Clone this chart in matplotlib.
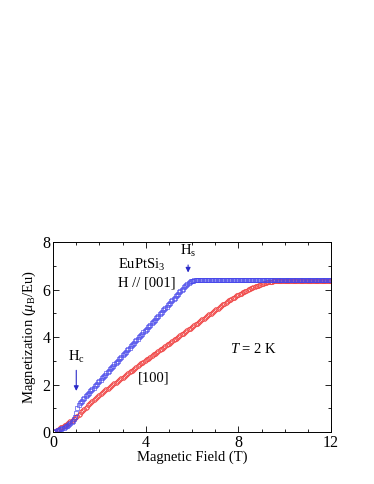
import numpy as np
import matplotlib
matplotlib.use("Agg")
import matplotlib.pyplot as plt
from matplotlib.ticker import MultipleLocator

plt.rcParams['font.family'] = ['Liberation Serif', 'DejaVu Serif']
plt.rcParams['mathtext.fontset'] = 'custom'
plt.rcParams['mathtext.rm'] = 'Liberation Serif'
plt.rcParams['mathtext.it'] = 'Liberation Serif:italic'

# H // [001] (blue squares), field step 0.05 T
m_001 = [
    0.00, 0.02, 0.04, 0.06, 0.08, 0.10, 0.12, 0.145, 0.17, 0.195,
    0.22, 0.25, 0.28, 0.315, 0.35, 0.39, 0.43, 0.48, 0.55, 0.65,
    0.80, 1.00, 1.15, 1.22, 1.28, 1.33, 1.39, 1.45, 1.51, 1.57,
    1.62, 1.67, 1.72, 1.77, 1.82, 1.88, 1.93, 1.99, 2.04, 2.10,
    2.15, 2.20, 2.26, 2.31, 2.37, 2.42, 2.47, 2.53, 2.58, 2.64,
    2.69, 2.74, 2.80, 2.85, 2.91, 2.96, 3.01, 3.07, 3.12, 3.18,
    3.23, 3.28, 3.34, 3.39, 3.45, 3.50, 3.55, 3.61, 3.66, 3.72,
    3.77, 3.82, 3.88, 3.93, 3.99, 4.04, 4.09, 4.15, 4.20, 4.26,
    4.31, 4.36, 4.42, 4.47, 4.53, 4.58, 4.63, 4.69, 4.74, 4.80,
    4.85, 4.90, 4.96, 5.01, 5.07, 5.12, 5.17, 5.23, 5.28, 5.34,
    5.39, 5.44, 5.50, 5.55, 5.61, 5.66, 5.71, 5.77, 5.82, 5.88,
    5.93, 5.98, 6.04, 6.09, 6.14, 6.19, 6.24, 6.28, 6.32, 6.35,
    6.37, 6.38, 6.39, 6.40, 6.40, 6.41, 6.41, 6.42, 6.42, 6.42,
    6.42, 6.42, 6.42, 6.42, 6.42, 6.42, 6.42, 6.42, 6.42, 6.42,
    6.42, 6.42, 6.42, 6.42, 6.42, 6.42, 6.42, 6.42, 6.42, 6.42,
    6.42, 6.42, 6.42, 6.42, 6.42, 6.42, 6.42, 6.42, 6.42, 6.42,
    6.42, 6.42, 6.42, 6.42, 6.42, 6.42, 6.42, 6.42, 6.42, 6.42,
    6.42, 6.42, 6.42, 6.42, 6.42, 6.42, 6.42, 6.42, 6.42, 6.42,
    6.42, 6.42, 6.42, 6.42, 6.42, 6.42, 6.42, 6.42, 6.42, 6.42,
    6.42, 6.42, 6.42, 6.42, 6.42, 6.42, 6.42, 6.42, 6.42, 6.42,
    6.42, 6.42, 6.42, 6.42, 6.42, 6.42, 6.42, 6.42, 6.42, 6.42,
    6.42, 6.42, 6.42, 6.42, 6.42, 6.42, 6.42, 6.42, 6.42, 6.42,
    6.42, 6.42, 6.42, 6.42, 6.42, 6.42, 6.42, 6.42, 6.42, 6.42,
    6.42, 6.42, 6.42, 6.42, 6.42, 6.42, 6.42, 6.42, 6.42, 6.42,
    6.42,
]

# H // [100] (red circles), field step 0.05 T
m_100 = [
    0.00, 0.025, 0.05, 0.08, 0.11, 0.14, 0.17, 0.20, 0.23, 0.26,
    0.29, 0.32, 0.35, 0.385, 0.42, 0.455, 0.49, 0.525, 0.56, 0.60,
    0.64, 0.685, 0.73, 0.78, 0.83, 0.88, 0.93, 0.98, 1.03, 1.08,
    1.13, 1.18, 1.23, 1.275, 1.32, 1.365, 1.41, 1.45, 1.49, 1.53,
    1.57, 1.61, 1.65, 1.685, 1.72, 1.76, 1.80, 1.835, 1.87, 1.905,
    1.94, 1.975, 2.01, 2.05, 2.09, 2.125, 2.16, 2.195, 2.23, 2.265,
    2.30, 2.34, 2.38, 2.415, 2.45, 2.485, 2.52, 2.555, 2.59, 2.63,
    2.67, 2.705, 2.74, 2.775, 2.81, 2.85, 2.89, 2.925, 2.96, 2.995,
    3.03, 3.065, 3.10, 3.135, 3.17, 3.205, 3.24, 3.275, 3.31, 3.345,
    3.38, 3.415, 3.45, 3.485, 3.52, 3.555, 3.59, 3.625, 3.66, 3.695,
    3.73, 3.765, 3.80, 3.835, 3.87, 3.905, 3.94, 3.975, 4.01, 4.045,
    4.08, 4.115, 4.15, 4.185, 4.22, 4.255, 4.29, 4.325, 4.36, 4.395,
    4.43, 4.465, 4.50, 4.535, 4.57, 4.605, 4.64, 4.675, 4.71, 4.745,
    4.78, 4.815, 4.85, 4.885, 4.92, 4.955, 4.99, 5.025, 5.06, 5.095,
    5.13, 5.165, 5.20, 5.235, 5.27, 5.305, 5.34, 5.375, 5.41, 5.445,
    5.48, 5.51, 5.54, 5.57, 5.60, 5.63, 5.66, 5.69, 5.72, 5.75,
    5.78, 5.805, 5.83, 5.855, 5.88, 5.905, 5.93, 5.955, 5.98, 6.005,
    6.03, 6.05, 6.07, 6.09, 6.11, 6.13, 6.15, 6.17, 6.19, 6.21,
    6.23, 6.245, 6.26, 6.275, 6.29, 6.30, 6.31, 6.32, 6.33, 6.335,
    6.34, 6.345, 6.35, 6.35, 6.35, 6.35, 6.35, 6.35, 6.35, 6.35,
    6.35, 6.35, 6.35, 6.35, 6.35, 6.35, 6.35, 6.35, 6.35, 6.35,
    6.35, 6.35, 6.35, 6.35, 6.35, 6.35, 6.35, 6.35, 6.35, 6.35,
    6.35, 6.35, 6.35, 6.35, 6.35, 6.35, 6.35, 6.35, 6.35, 6.35,
    6.35, 6.35, 6.35, 6.35, 6.35, 6.35, 6.35, 6.35, 6.35, 6.35,
    6.35,
]

field_001 = [round(0.05 * i, 2) for i in range(len(m_001))]
field_100 = [round(0.05 * i, 2) for i in range(len(m_100))]

blue = '#4646ea'
red = '#f04444'
arrow_col = '#2a2ac8'

fig = plt.figure(figsize=(3.74, 4.84), dpi=100)
ax = fig.add_axes([0.142, 0.107, 0.743, 0.393])

ax.plot(field_100, m_100, 'o', mfc='none', mec=red, ms=3.2, mew=0.45)
ax.plot(field_001, m_001, 's', mfc='none', mec=blue, ms=3.2, mew=0.45)

ax.set_xlim(0, 12)
ax.set_ylim(0, 8)
ax.xaxis.set_major_locator(MultipleLocator(4))
ax.xaxis.set_minor_locator(MultipleLocator(1))
ax.yaxis.set_major_locator(MultipleLocator(2))
ax.yaxis.set_minor_locator(MultipleLocator(1))
ax.tick_params(which='both', direction='in', top=True, right=True, labelsize=11.5, width=0.6, pad=2)
ax.tick_params(which='major', length=4)
ax.tick_params(which='minor', length=2.5)
for s in ax.spines.values():
    s.set_linewidth(0.7)

ax.set_xlabel('Magnetic Field (T)', fontsize=10.5, labelpad=0)
ax.set_ylabel(r'Magnetization ($\mu_\mathrm{B}$/Eu)', fontsize=10.5, labelpad=3)

ax.text(2.8, 7.05, r'EuPtSi$_3$', fontsize=10.5, va='center')
ax.text(2.8, 6.27, 'H // [001]', fontsize=10.5, va='center')
ax.text(5.85, 7.62, r'H$_\mathrm{s}$', fontsize=10.5, va='center', ha='center')
ax.text(1.0, 3.15, r'H$_\mathrm{c}$', fontsize=10.5, va='center', ha='center')
ax.text(3.68, 2.27, '[100]', fontsize=10.5, va='center')
ax.text(7.64, 3.5, r'$T$ = 2 K', fontsize=10.5, va='center')

ax.annotate('', xy=(5.83, 6.6), xytext=(5.83, 7.15),
            arrowprops=dict(arrowstyle='-|>', color=arrow_col, lw=0.8, mutation_scale=7))
ax.annotate('', xy=(1.0, 1.62), xytext=(1.0, 2.72),
            arrowprops=dict(arrowstyle='-|>', color=arrow_col, lw=0.8, mutation_scale=7))

fig.savefig('out.png', dpi=100)
